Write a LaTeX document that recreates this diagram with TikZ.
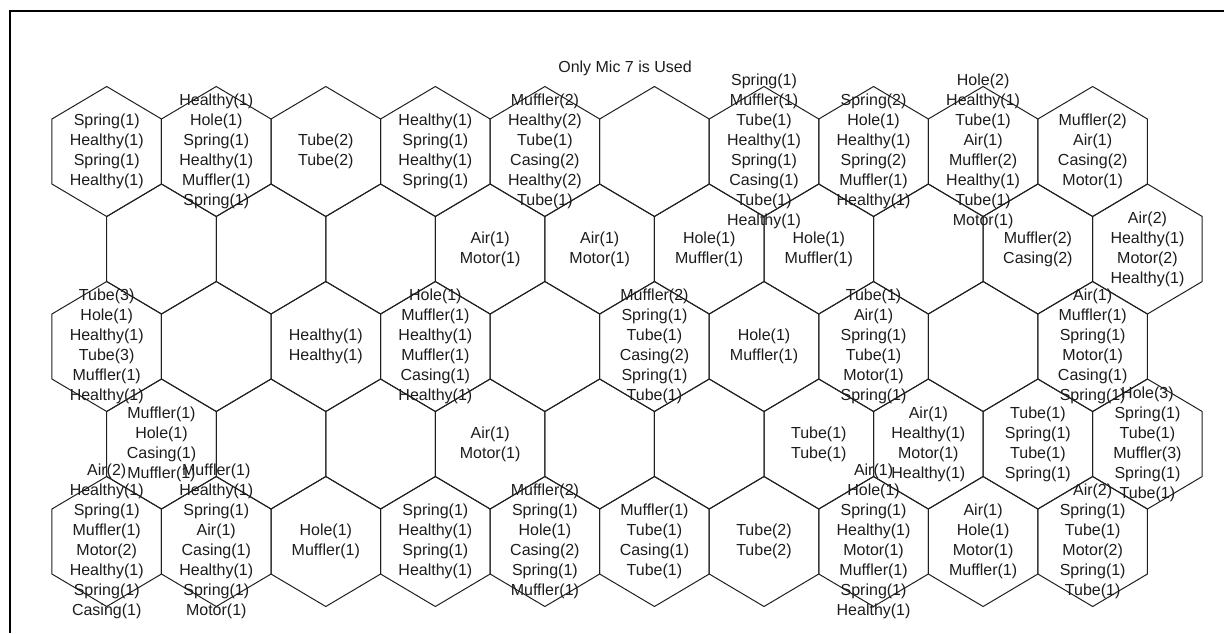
\documentclass[tikz,border=0pt]{standalone}
\usepackage{fontspec}
\setmainfont{Liberation Sans}
\usepackage{xcolor}
\usepackage{tikz}
\usetikzlibrary{calc}
\definecolor{tinta}{HTML}{1C1C1C}
\definecolor{rejilla}{HTML}{202020}

\begin{document}
\begin{tikzpicture}[x=0.5pt,y=-0.5pt,font=\fontsize{8}{10}\selectfont,
  hexline/.style={rejilla, line width=0.5pt, line join=miter},
  cell/.style={tinta, align=center, inner sep=0pt}]
  \useasboundingbox (0,0) rectangle (1224,633);
  % marco de la figura
  \draw[black, line width=1pt] (10,633) -- (10,11) -- (1224,11);
  % titulo
  \node[tinta] (title) at (625,68) {Only Mic 7 is Used};
  % rejilla hexagonal, 5 filas x 10 columnas
  \foreach \r in {0,...,4}{
    \foreach \k in {0,...,9}{
      \pgfmathsetmacro{\cx}{106.7+109.55*\k+54.78*mod(\r,2)}
      \pgfmathsetmacro{\cy}{151.5+97.5*\r}
      \draw[hexline] (\cx,{\cy-65}) -- ++(54.78,32.5) -- ++(0,65) -- ++(-54.78,32.5)
        -- ++(-54.78,-32.5) -- ++(0,-65) -- cycle;
    }
  }
  % etiquetas de cada celda (fila/columna/texto)
  \foreach \r/\k/\txt in {
    0/0/{Spring(1)\\Healthy(1)\\Spring(1)\\Healthy(1)},
    0/1/{Healthy(1)\\Hole(1)\\Spring(1)\\Healthy(1)\\Muffler(1)\\Spring(1)},
    0/2/{Tube(2)\\Tube(2)},
    0/3/{Healthy(1)\\Spring(1)\\Healthy(1)\\Spring(1)},
    0/4/{Muffler(2)\\Healthy(2)\\Tube(1)\\Casing(2)\\Healthy(2)\\Tube(1)},
    0/6/{Spring(1)\\Muffler(1)\\Tube(1)\\Healthy(1)\\Spring(1)\\Casing(1)\\Tube(1)\\Healthy(1)},
    0/7/{Spring(2)\\Hole(1)\\Healthy(1)\\Spring(2)\\Muffler(1)\\Healthy(1)},
    0/8/{Hole(2)\\Healthy(1)\\Tube(1)\\Air(1)\\Muffler(2)\\Healthy(1)\\Tube(1)\\Motor(1)},
    0/9/{Muffler(2)\\Air(1)\\Casing(2)\\Motor(1)},
    1/3/{Air(1)\\Motor(1)},
    1/4/{Air(1)\\Motor(1)},
    1/5/{Hole(1)\\Muffler(1)},
    1/6/{Hole(1)\\Muffler(1)},
    1/8/{Muffler(2)\\Casing(2)},
    1/9/{Air(2)\\Healthy(1)\\Motor(2)\\Healthy(1)},
    2/0/{Tube(3)\\Hole(1)\\Healthy(1)\\Tube(3)\\Muffler(1)\\Healthy(1)},
    2/2/{Healthy(1)\\Healthy(1)},
    2/3/{Hole(1)\\Muffler(1)\\Healthy(1)\\Muffler(1)\\Casing(1)\\Healthy(1)},
    2/5/{Muffler(2)\\Spring(1)\\Tube(1)\\Casing(2)\\Spring(1)\\Tube(1)},
    2/6/{Hole(1)\\Muffler(1)},
    2/7/{Tube(1)\\Air(1)\\Spring(1)\\Tube(1)\\Motor(1)\\Spring(1)},
    2/9/{Air(1)\\Muffler(1)\\Spring(1)\\Motor(1)\\Casing(1)\\Spring(1)},
    3/0/{Muffler(1)\\Hole(1)\\Casing(1)\\Muffler(1)},
    3/3/{Air(1)\\Motor(1)},
    3/6/{Tube(1)\\Tube(1)},
    3/7/{Air(1)\\Healthy(1)\\Motor(1)\\Healthy(1)},
    3/8/{Tube(1)\\Spring(1)\\Tube(1)\\Spring(1)},
    3/9/{Hole(3)\\Spring(1)\\Tube(1)\\Muffler(3)\\Spring(1)\\Tube(1)},
    4/0/{Air(2)\\Healthy(1)\\Spring(1)\\Muffler(1)\\Motor(2)\\Healthy(1)\\Spring(1)\\Casing(1)},
    4/1/{Muffler(1)\\Healthy(1)\\Spring(1)\\Air(1)\\Casing(1)\\Healthy(1)\\Spring(1)\\Motor(1)},
    4/2/{Hole(1)\\Muffler(1)},
    4/3/{Spring(1)\\Healthy(1)\\Spring(1)\\Healthy(1)},
    4/4/{Muffler(2)\\Spring(1)\\Hole(1)\\Casing(2)\\Spring(1)\\Muffler(1)},
    4/5/{Muffler(1)\\Tube(1)\\Casing(1)\\Tube(1)},
    4/6/{Tube(2)\\Tube(2)},
    4/7/{Air(1)\\Hole(1)\\Spring(1)\\Healthy(1)\\Motor(1)\\Muffler(1)\\Spring(1)\\Healthy(1)},
    4/8/{Air(1)\\Hole(1)\\Motor(1)\\Muffler(1)},
    4/9/{Air(2)\\Spring(1)\\Tube(1)\\Motor(2)\\Spring(1)\\Tube(1)}}{
    \pgfmathsetmacro{\cx}{106.7+109.55*\k+54.78*mod(\r,2)}
    \pgfmathsetmacro{\cy}{151.5+97.5*\r}
    \node[cell] (c\r-\k) at (\cx,\cy) {\txt};
  }
\end{tikzpicture}
\end{document}
